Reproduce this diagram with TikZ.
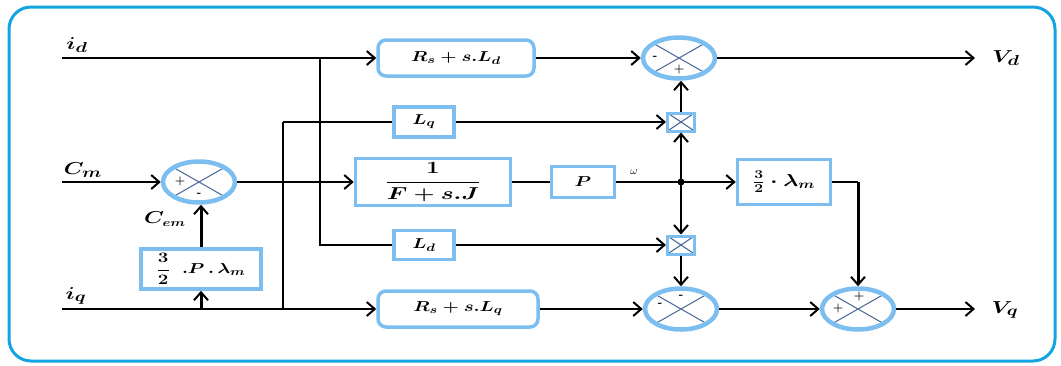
\documentclass[tikz,border=0pt]{standalone}
\usepackage{amsmath}
\usepackage{graphicx}
\usetikzlibrary{shapes.geometric,arrows.meta,calc}
\definecolor{framec}{RGB}{20,165,225}
\definecolor{boxb}{RGB}{125,190,240}
\definecolor{xcol}{RGB}{70,100,150}
\newcommand{\hwide}[2][1.3]{\scalebox{#1}[1]{#2}}
\begin{document}
\begin{tikzpicture}[x=1pt,y=-1pt,
  wire/.style={line width=2.3pt,black},
  arr/.style={wire,-{Straight Barb[length=8pt,width=14pt,line width=2pt]}},
  blk/.style={draw=boxb,line width=3.5pt,fill=white,inner sep=0pt,font=\fontsize{15}{17}\selectfont\boldmath},
  rblk/.style={blk,rounded corners=8pt},
  sumc/.style={ellipse,draw=boxb,line width=4.5pt,fill=white,minimum width=72pt,minimum height=41pt,inner sep=0pt,
    path picture={\draw[xcol,line width=1pt] (path picture bounding box.north west)--(path picture bounding box.south east)
      (path picture bounding box.north east)--(path picture bounding box.south west);}},
  mulc/.style={rectangle,draw=boxb,line width=3pt,fill=white,minimum width=27pt,minimum height=18pt,inner sep=0pt,
    path picture={\draw[xcol,line width=1pt] (path picture bounding box.north west)--(path picture bounding box.south east)
      (path picture bounding box.north east)--(path picture bounding box.south west);}},
  lab/.style={font=\fontsize{19}{21}\selectfont\boldmath,inner sep=0pt},
  sgn/.style={font=\fontsize{12}{13}\selectfont\bfseries,inner sep=0pt}
]
\useasboundingbox (0,0) rectangle (1061,365);
\draw[framec,line width=3pt,rounded corners=22pt] (9,7) rectangle (1055,361);

% nodes
\node[rblk,minimum width=156pt,minimum height=36pt] (bRd) at (456,58) {\hwide{$R_s + s.L_d$}};
\node[sumc] (sTop) at (679,58) {};
\node[blk,minimum width=60pt,minimum height=30pt] (bLq) at (424,122) {\hwide{$L_q$}};
\node[mulc] (mTop) at (681,122) {};
\node[sumc] (sCm) at (199,182) {};
\node[blk,minimum width=155pt,minimum height=47pt,font=\fontsize{17}{19}\selectfont\boldmath] (bFJ) at (433,182) {\hwide[1.4]{$\dfrac{1}{F+s.J}$}};
\node[blk,minimum width=63pt,minimum height=31pt] (bP) at (583,182) {\hwide{$P$}};
\coordinate (J) at (681,182);
\node[blk,minimum width=93pt,minimum height=45pt,font=\fontsize{17}{19}\selectfont\boldmath] (bL) at (784,182) {\hwide{$\frac{3}{2}\cdot\lambda_m$}};
\node[blk,minimum width=60pt,minimum height=29pt] (bLd) at (424,245) {\hwide{$L_d$}};
\node[mulc] (mBot) at (681,245) {};
\node[rblk,minimum width=160pt,minimum height=36pt] (bRq) at (458,309) {\hwide{$R_s + s.L_q$}};
\node[sumc] (sMid) at (681,309) {};
\node[sumc] (sR) at (858,309) {};
\node[blk,minimum width=120pt,minimum height=40pt,font=\fontsize{15}{17}\selectfont\boldmath] (bTe) at (201,269) {\hwide{$\dfrac{3}{2}\;\;.P\,.\,\lambda_m$}};

% inputs / outputs
\coordinate (ind) at (62,58);
\coordinate (inCm) at (62,182);
\coordinate (inq) at (62,309);
\coordinate (outd) at (975,58);
\coordinate (outq) at (975,309);
\coordinate (bd) at (320,58);
\coordinate (bdd) at (320,245);
\coordinate (bq) at (283,122);
\coordinate (bqq) at (283,309);
\coordinate (cr) at (858,182);
\coordinate (tq) at (201,309);

\node[lab] (lid) at (77,45) {\hwide{$i_d$}};
\node[lab] (lcm) at (83,170) {\hwide{$C_m$}};
\node[lab] (liq) at (76,296) {\hwide{$i_q$}};
\node[lab] (lvd) at (1006,58) {\hwide{$V_d$}};
\node[lab] (lvq) at (1005,310) {\hwide{$V_q$}};
\node[lab,font=\fontsize{16}{18}\selectfont\boldmath] (lce) at (165,219) {\hwide{$C_{em}$}};
\node[font=\fontsize{11}{12}\selectfont] (lw) at (634,172) {$\omega$};

% signs
\node[sgn] at (655,58) {-};
\node[sgn] at (679,70) {+};
\node[sgn] at (180,182) {+};
\node[sgn] at (199,195) {-};
\node[sgn] at (681,297) {-};
\node[sgn] at (660,305) {-};
\node[sgn] at (859,296) {+};
\node[sgn] at (838,308) {+};

% wires
\draw[arr] (ind) -- (bRd.west);
\draw[arr] (bRd.east) -- (sTop.west);
\draw[arr] (sTop.east) -- (outd);
\draw[wire] (bd) -- (bdd) -- (bLd.west);
\draw[wire] (bq) -- (bLq.west);
\draw[wire] (bq) -- (bqq);
\draw[arr] (bLq.east) -- (mTop.west);
\draw[arr] (mTop.north) -- (mTop.north |- sTop.south);
\draw[arr] (inCm) -- (sCm.west);
\draw[arr] (sCm.east) -- (bFJ.west);
\draw[wire] (bFJ.east) -- (bP.west);
\draw[arr] (bP.east) -- (bL.west);
\fill (J) circle (3.5pt);
\draw[arr] (J) -- (mTop.south);
\draw[arr] (J) -- (mBot.north);
\draw[arr] (bLd.east) -- (mBot.west);
\draw[arr] (mBot.south) -- (sMid.north);
\draw[wire] (bL.east) -- (cr);
\draw[arr,line width=3pt] (cr) -- (sR.north);
\draw[arr] (inq) -- (bRq.west);
\draw[arr] (bRq.east) -- (sMid.west);
\draw[arr] (sMid.east) -- (sR.west);
\draw[arr] (sR.east) -- (outq);
\draw[arr,line width=3pt] (tq) -- (bTe.south);
\draw[arr,line width=3pt] (bTe.north) -- (bTe.north |- sCm.south);
\end{tikzpicture}
\end{document}
